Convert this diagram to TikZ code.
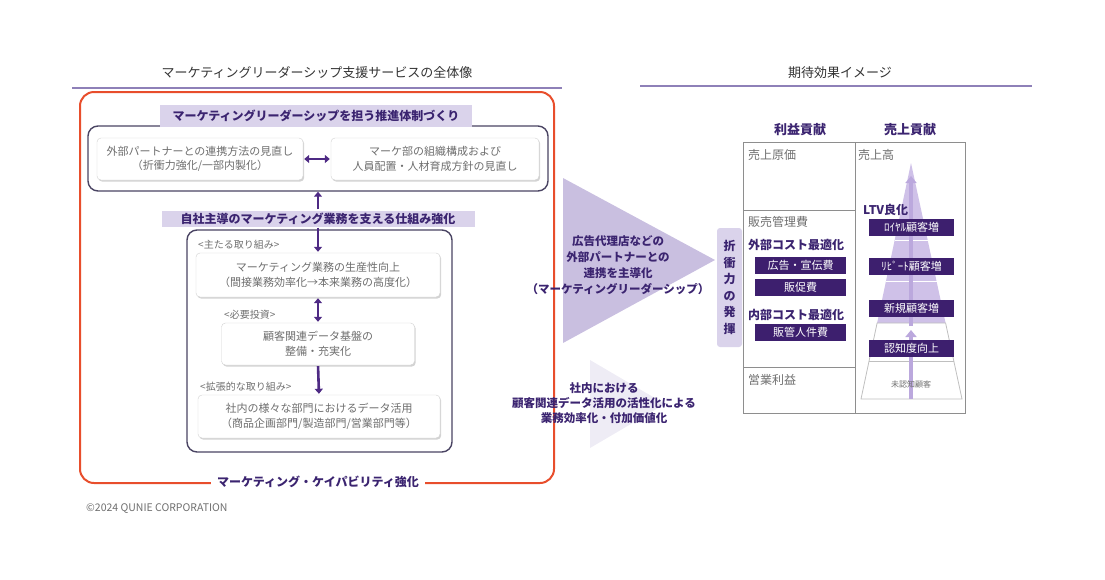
\documentclass[tikz,border=0pt]{standalone}
\usepackage{fontspec}
\setmainfont{Noto Sans CJK JP}
\usetikzlibrary{arrows.meta,shadows,calc}
\definecolor{redf}{HTML}{E84E2C}
\definecolor{framec}{HTML}{4A4463}
\definecolor{lav}{HTML}{DAD3EB}
\definecolor{dpur}{HTML}{3B2470}
\definecolor{apur}{HTML}{4E2A84}
\definecolor{tri1c}{HTML}{C9BFE0}
\definecolor{tri2c}{HTML}{EEECF5}
\definecolor{boxp}{HTML}{3D1F6E}
\definecolor{pyrc}{HTML}{CFC1E8}
\definecolor{pyra}{HTML}{BBA8DD}
\definecolor{txtg}{HTML}{6E6E6E}
\definecolor{tline}{HTML}{8E8E8E}
\definecolor{ulc}{HTML}{8E80B8}
\definecolor{titc}{HTML}{333333}
\tikzset{
  ttl/.style={text=titc, font=\fontsize{13}{15}\selectfont, inner sep=0},
  uline/.style={draw=ulc, line width=1.3pt},
  framebox/.style={draw=framec, line width=1.4pt, rounded corners=10pt, inner sep=0},
  lbl/.style={fill=lav, text=dpur, font=\bfseries\fontsize{12}{14}\selectfont, inner sep=0},
  softbox/.style={draw=black!18, fill=white, rounded corners=4pt, text=txtg,
    drop shadow={opacity=0.35, shadow xshift=1.2pt, shadow yshift=-1.6pt},
    font=\fontsize{11}{14.5}\selectfont, align=center, inner sep=0},
  small/.style={text=txtg, font=\fontsize{10}{12}\selectfont, inner sep=0, anchor=west},
  parrow/.style={draw=apur, line width=2.6pt, -{Triangle[width=8pt,length=5pt]}},
  darrow/.style={draw=apur, line width=2.6pt, {Triangle[width=8pt,length=5pt]}-{Triangle[width=8pt,length=5pt]}},
  midtxt/.style={text=dpur, font=\bfseries\fontsize{11.5}{16}\selectfont, align=center, inner sep=0},
  pbox/.style={fill=boxp, text=white, font=\fontsize{11}{13}\selectfont, inner sep=0, minimum height=17pt},
  cell/.style={text=txtg, font=\fontsize{12}{14}\selectfont, inner sep=0, anchor=west},
  hdr/.style={text=dpur, font=\bfseries\fontsize{13}{15}\selectfont, inner sep=0},
}
\begin{document}
\begin{tikzpicture}[x=1pt,y=-1pt]
\useasboundingbox (0,0) rectangle (1105,579);
% ---------- left titles ----------
\node[ttl] (t1) at (317,73) {マーケティングリーダーシップ支援サービスの全体像};
\draw[uline] (72,88) -- (562,88);
\draw[draw=redf, line width=2pt, rounded corners=14pt] (80,92) rectangle (554,483);
\node[fill=white, text=dpur, font=\bfseries\fontsize{12}{14}\selectfont, inner xsep=6pt, inner ysep=2pt] (cap) at (318,482) {マーケティング・ケイパビリティ強化};
% top block
\node[framebox, minimum width=460pt, minimum height=65pt] (fr1) at (318,158.5) {};
\node[lbl, minimum width=312pt, minimum height=22pt] (h1) at (316,116) {マーケティングリーダーシップを担う推進体制づくり};
\node[softbox, minimum width=206pt, minimum height=42pt] (bl) at (200,159) {外部パートナーとの連携方法の見直し\\（折衝力強化/一部内製化）};
\node[softbox, minimum width=208pt, minimum height=42pt] (br) at (435,159) {マーケ部の組織構成および\\人員配置・人材育成方針の見直し};
\draw[darrow, shorten <=1pt, shorten >=1pt] (bl.east) -- (br.west);
% middle label
\node[lbl, minimum width=313pt, minimum height=16pt] (h2) at (318,218.5) {自社主導のマーケティング業務を支える仕組み強化};
\draw[parrow, shorten <=1pt] (h2.north) -- (fr1.south);
% second frame
\node[framebox, minimum width=265pt, minimum height=222pt] (fr2) at (319.5,341) {};
\node[small] (s1) at (198,245) {<主たる取り組み>};
\node[softbox, minimum width=244pt, minimum height=44pt] (m1) at (318,275) {マーケティング業務の生産性向上\\（間接業務効率化→本来業務の高度化）};
\draw[parrow, shorten <=1pt, shorten >=1pt] (h2.south) -- (m1.north);
\node[small] (s2) at (224,315) {<必要投資>};
\node[softbox, minimum width=193pt, minimum height=42pt] (m2) at (318,344) {顧客関連データ基盤の\\整備・充実化};
\draw[darrow, shorten <=1pt, shorten >=1pt] (m1.south) -- (m2.north);
\node[small] (s3) at (200,387) {<拡張的な取り組み>};
\node[softbox, minimum width=242pt, minimum height=43pt] (m3) at (319,416.5) {社内の様々な部門におけるデータ活用\\（商品企画部門/製造部門/営業部門等）};
\draw[parrow, shorten <=1pt, shorten >=1pt] (m2.south) -- (m3.north);
\node[text=txtg, font=\fontsize{10.5}{12}\selectfont, inner sep=0, anchor=west] (copy) at (86,509) {©2024 QUNIE CORPORATION};
% ---------- middle ----------
\fill[tri1c] (563,178) -- (715,260) -- (563,343) -- cycle;
\node[midtxt] (tt1) at (618,265) {広告代理店などの\\外部パートナーとの\\連携を主導化\\（マーケティングリーダーシップ）};
\fill[tri2c] (590,360) -- (665,404) -- (590,448) -- cycle;
\node[midtxt, font=\bfseries\fontsize{11.5}{15}\selectfont] (tt2) at (604,403) {社内における\\顧客関連データ活用の活性化による\\業務効率化・付加価値化};
\node[fill=lav, rounded corners=3pt, minimum width=25pt, minimum height=119pt, inner sep=0, text=dpur, align=center, font=\bfseries\fontsize{12}{16.5}\selectfont] (nego) at (729.5,287.5) {折\\衝\\力\\の\\発\\揮};
% ---------- right ----------
\node[ttl] (t2) at (840,73) {期待効果イメージ};
\draw[uline] (640,86) -- (1032,86);
\node[hdr] (hp) at (800,130) {利益貢献};
\node[hdr] (hs) at (910,130) {売上貢献};
\draw[draw=tline, line width=1pt] (743,142) rectangle (965,413);
\draw[draw=tline, line width=1pt] (855,142) -- (855,413);
\draw[draw=tline, line width=1pt] (743,210) -- (855,210);
\draw[draw=tline, line width=1pt] (743,367) -- (855,367);
\node[cell] (c1) at (748,155) {売上原価};
\node[cell] (c2) at (858,155) {売上高};
\node[cell] (c3) at (748,222) {販売管理費};
\node[cell] (c4) at (748,380) {営業利益};
\node[cell, text=dpur, font=\bfseries\fontsize{12}{14}\selectfont] (e1) at (748,245) {外部コスト最適化};
\node[pbox, minimum width=91pt] (p1) at (800.5,265) {広告・宣伝費};
\node[pbox, minimum width=91pt] (p2) at (800.5,287.5) {販促費};
\node[cell, text=dpur, font=\bfseries\fontsize{12}{14}\selectfont] (e2) at (748,315) {内部コスト最適化};
\node[pbox, minimum width=91pt] (p3) at (800.5,332.5) {販管人件費};
% pyramid
\coordinate (apex) at (911,163);
\coordinate (bl0) at (861,399);
\coordinate (br0) at (962,399);
\coordinate (la) at ($(apex)!0.678!(bl0)$);
\coordinate (ra) at ($(apex)!0.678!(br0)$);
\coordinate (lb) at ($(apex)!0.839!(bl0)$);
\coordinate (rb) at ($(apex)!0.839!(br0)$);
\fill[pyrc] (apex) -- (ra) -- (la) -- cycle;
\draw[draw=white, line width=0.8pt] ($(apex)!0.326!(bl0)$) -- ($(apex)!0.326!(br0)$);
\draw[draw=white, line width=0.8pt] ($(apex)!0.5!(bl0)$) -- ($(apex)!0.5!(br0)$);
\draw[draw=black!25, line width=0.8pt] (la) -- (bl0) -- (br0) -- (ra) -- cycle;
\draw[draw=black!25, line width=0.8pt] (lb) -- (rb);
\draw[draw=pyra, line width=4.5pt, -{Triangle[width=11pt,length=7pt]}] (911,399) -- (911,330);
\draw[draw=pyra, line width=4.5pt, -{Triangle[width=11pt,length=7pt]}] (911,326) -- (911,176);
\node[cell, text=dpur, font=\bfseries\fontsize{12}{14}\selectfont] (ltv) at (863,210) {LTV良化};
\node[pbox, minimum width=85pt] (q1) at (911.5,227.5) {ﾛｲﾔﾙ顧客増};
\node[pbox, minimum width=85pt] (q2) at (911.5,266) {ﾘﾋﾟｰﾄ顧客増};
\node[pbox, minimum width=85pt] (q3) at (911.5,308) {新規顧客増};
\node[pbox, minimum width=85pt] (q4) at (911.5,348.5) {認知度向上};
\node[text=txtg, font=\fontsize{8}{10}\selectfont, inner sep=0] (q5) at (911,384) {未認知顧客};
\end{tikzpicture}
\end{document}
